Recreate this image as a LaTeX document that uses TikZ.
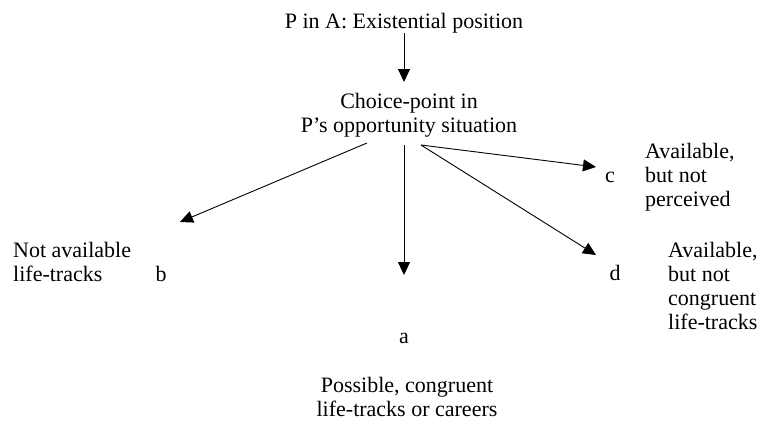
\documentclass[tikz,border=0pt]{standalone}
\usepackage{fontspec}
\setmainfont{Liberation Serif}
\usetikzlibrary{arrows.meta}

\begin{document}
\begin{tikzpicture}[x=1pt,y=-1pt]
    \tikzset{
        txt/.style={inner sep=0pt, font=\fontsize{22}{24}\selectfont},
        arr/.style={line width=0.9pt, -{Triangle[length=13pt,width=12pt]}}
    }
    \useasboundingbox (0,0) rectangle (761,421);
    % texts (base = last line)
    \node[txt, anchor=base] (top) at (404,28) {P in A: Existential position};
    \node[txt, anchor=base, align=center] (choice) at (409,132) {Choice-point in\\P’s opportunity situation};
    \node[txt, anchor=base west, align=left] (notavail) at (13,281) {Not available\\life-tracks};
    \node[txt, anchor=base] (b) at (161,281) {b};
    \node[txt, anchor=base] (a) at (404,343) {a};
    \node[txt, anchor=base, align=center] (possible) at (407,416) {Possible, congruent\\life-tracks or careers};
    \node[txt, anchor=base] (c) at (610,182) {c};
    \node[txt, anchor=base west, align=left] (notseen) at (645,206) {Available,\\but not\\perceived};
    \node[txt, anchor=base] (d) at (615,280) {d};
    \node[txt, anchor=base west, align=left] (notcong) at (668,329) {Available,\\but not\\congruent\\life-tracks};
    % arrow ends
    \coordinate (tochoice) at (404,82);
    \coordinate (fromleft) at (367,143);
    \coordinate (fromdown) at (404,145);
    \coordinate (fromright) at (421,145);
    \coordinate (tob) at (180,222);
    \coordinate (toa) at (404,275);
    \coordinate (toc) at (596,167);
    \coordinate (tod) at (596,255);
    % arrows
    \draw[arr] (top.south -| tochoice) -- (tochoice);
    \draw[arr] (fromleft) -- (tob);
    \draw[arr] (fromdown) -- (toa);
    \draw[arr] (fromright) -- (toc);
    \draw[arr] (fromright) -- (tod);
\end{tikzpicture}
\end{document}
